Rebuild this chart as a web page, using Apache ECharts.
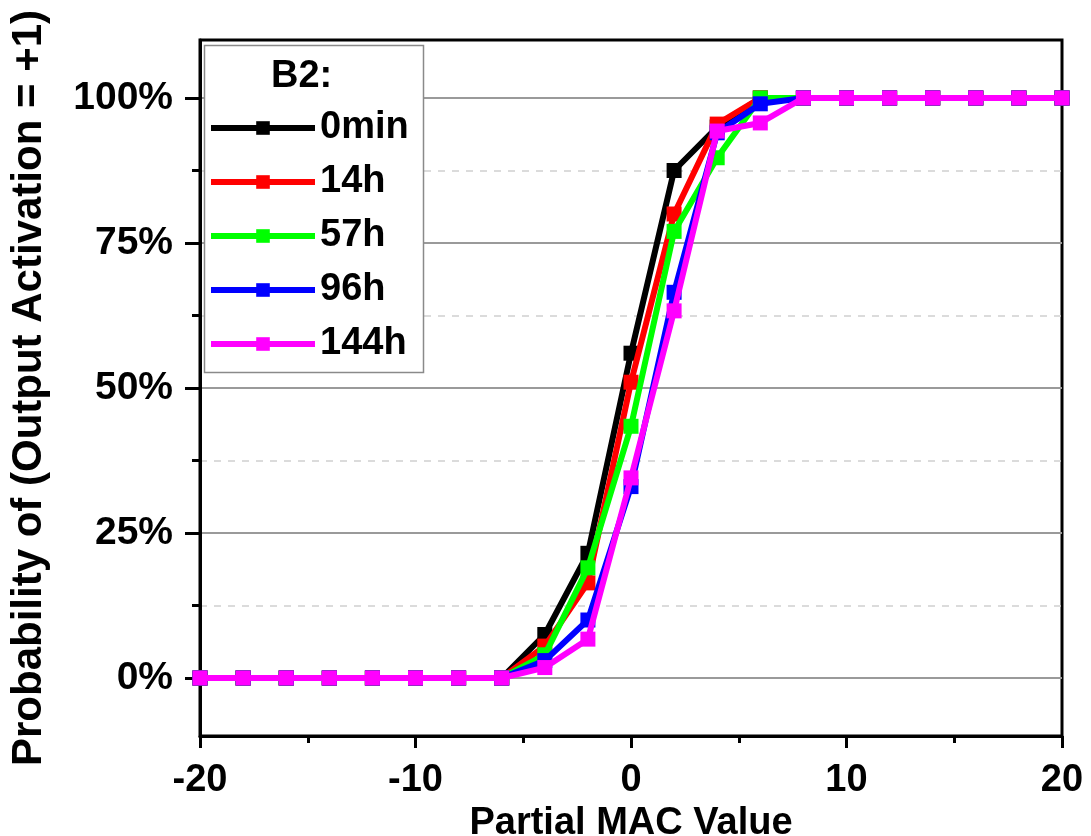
<!DOCTYPE html>
<html>
<head>
<meta charset="utf-8">
<script src="https://cdn.jsdelivr.net/npm/echarts@6/dist/echarts.min.js"></script>
<style>
  html, body { margin: 0; padding: 0; background: #fff; }
  #chart { width: 1091px; height: 836px; }
</style>
</head>
<body>
<div id="chart"></div>
<script>
// Partial MAC value (x) for every sample point
const macValues = [-20, -18, -16, -14, -12, -10, -8, -6, -4, -2, 0, 2, 4, 6, 8, 10, 12, 14, 16, 18, 20];

// Probability (%) that the output activation is +1, per retention time
const prob0min = [0, 0, 0, 0, 0, 0, 0, 0, 7.5, 21.5, 56, 87.5, 95, 100, 100, 100, 100, 100, 100, 100, 100];
const prob14h  = [0, 0, 0, 0, 0, 0, 0, 0, 5.5, 16.4, 51, 80, 95.5, 100, 100, 100, 100, 100, 100, 100, 100];
const prob57h  = [0, 0, 0, 0, 0, 0, 0, 0, 4, 19, 43.4, 77, 89.7, 100, 100, 100, 100, 100, 100, 100, 100];
const prob96h  = [0, 0, 0, 0, 0, 0, 0, 0, 3, 10, 33, 66.5, 94, 99, 100, 100, 100, 100, 100, 100, 100];
const prob144h = [0, 0, 0, 0, 0, 0, 0, 0, 1.8, 6.7, 34.5, 63.3, 94.3, 95.7, 100, 100, 100, 100, 100, 100, 100];

const seriesNames  = ['0min', '14h', '57h', '96h', '144h'];
const seriesColors = ['#000000', '#ff0000', '#00ff00', '#0000ff', '#ff00ff'];
const seriesData   = [prob0min, prob14h, prob57h, prob96h, prob144h];

// Y-axis tick values (%)
const yMajorTicks = [0, 25, 50, 75, 100];
const yMinorTicks = [12.5, 37.5, 62.5, 87.5];

const FONT = '"Liberation Sans", Arial, sans-serif';

const chart = echarts.init(document.getElementById('chart'), null, { renderer: 'canvas' });

const series = seriesNames.map((name, i) => ({
  name: name,
  type: 'line',
  data: macValues.map((x, j) => [x, seriesData[i][j]]),
  symbol: 'rect',
  symbolSize: 15,
  showSymbol: true,
  lineStyle: { color: seriesColors[i], width: 6 },
  itemStyle: { color: seriesColors[i] },
  z: 3 + i,
  yAxisIndex: 0
}));

const option = {
  animation: false,
  backgroundColor: '#ffffff',
  grid: {
    left: 200, right: 29, top: 40, bottom: 100,
    outerBoundsMode: 'none',
    containLabel: false,
    show: true, borderColor: '#000', borderWidth: 3, backgroundColor: '#fff'
  },
  xAxis: {
    type: 'value',
    min: -20, max: 20, interval: 10,
    name: 'Partial MAC Value',
    nameLocation: 'middle',
    nameGap: 64,
    nameTextStyle: { fontFamily: FONT, fontWeight: 'bold', fontSize: 38, color: '#000' },
    axisLine: { show: true, onZero: false, lineStyle: { color: '#000', width: 3 } },
    axisTick: { show: true, inside: false, length: 12, lineStyle: { color: '#000', width: 3 } },
    minorTick: { show: true, splitNumber: 2, length: 7, lineStyle: { color: '#000', width: 3 } },
    splitLine: { show: false },
    axisLabel: { margin: 26, fontFamily: FONT, fontWeight: 'bold', fontSize: 38, color: '#000' }
  },
  yAxis: [
    {
      type: 'value',
      min: -10, max: 110,
      name: 'Probability of (Output Activation = +1)',
      nameLocation: 'middle',
      nameGap: 150,
      nameTextStyle: { fontFamily: FONT, fontWeight: 'bold', fontSize: 42, color: '#000' },
      axisLine: { show: true, onZero: false, lineStyle: { color: '#000', width: 3 } },
      axisTick: { show: true, inside: false, length: 15, customValues: yMajorTicks, lineStyle: { color: '#000', width: 3 } },
      axisLabel: {
        customValues: yMajorTicks, margin: 27,
        fontFamily: FONT, fontWeight: 'bold', fontSize: 39, color: '#000',
        formatter: '{value}%'
      },
      splitLine: { show: true, lineStyle: { color: '#9a9a9a', width: 2, type: 'solid' } }
    },
    {
      type: 'value',
      min: -10, max: 110,
      position: 'left',
      axisLine: { show: false, onZero: false },
      axisTick: { show: true, inside: false, length: 8, customValues: yMinorTicks, lineStyle: { color: '#000', width: 3 } },
      axisLabel: { show: false, customValues: yMinorTicks },
      splitLine: { show: true, lineStyle: { color: '#cfcfcf', width: 1.5, type: [7, 7] } }
    }
  ],
  legend: {
    orient: 'vertical',
    left: 208, top: 109,
    z: 120,
    itemWidth: 104, itemHeight: 17,
    itemGap: 16,
    padding: 0,
    data: seriesNames,
    textStyle: { fontFamily: FONT, fontWeight: 'bold', fontSize: 38, lineHeight: 38, color: '#000' },
    lineStyle: { width: 6 }
  },
  graphic: [
    {
      type: 'rect', z: 100, silent: true,
      shape: { x: 204.5, y: 45.5, width: 219, height: 327 },
      style: { fill: 'rgba(255,255,255,1)', stroke: '#8a8a8a', lineWidth: 1.5 }
    },
    {
      type: 'text', z: 101, silent: true,
      left: 271, top: 58,
      style: { text: 'B2:', font: 'bold 38px ' + FONT, fill: '#000' }
    }
  ],
  series: series
};

chart.setOption(option);
</script>
</body>
</html>
